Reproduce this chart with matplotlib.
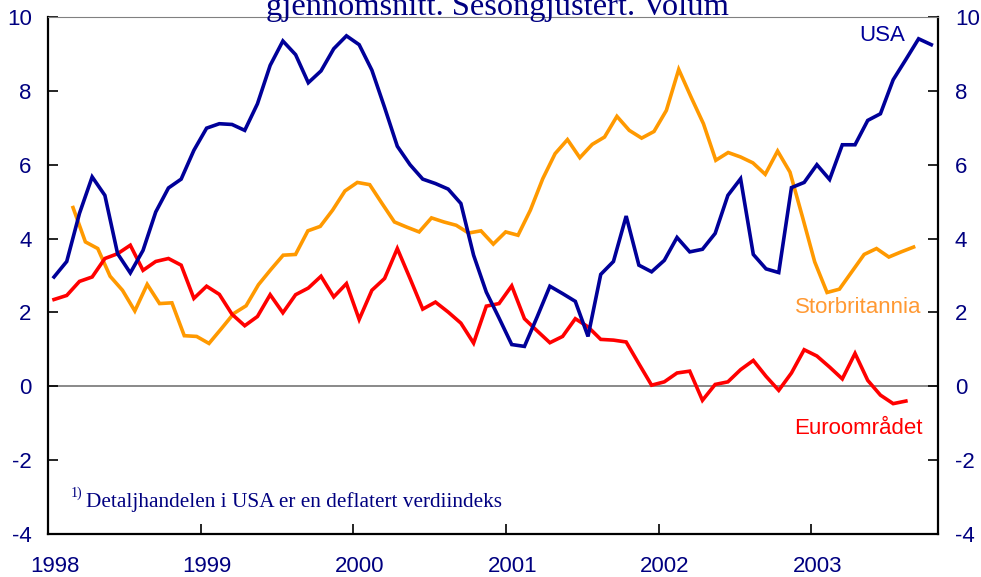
import matplotlib
matplotlib.use("Agg")
import matplotlib.pyplot as plt
import numpy as np

# ---------------- data ----------------
usa = [2.96, 3.38, 4.68, 5.67, 5.17, 3.59, 3.07, 3.68, 4.72, 5.37, 5.61, 6.39,
       6.99, 7.11, 7.09, 6.93, 7.65, 8.69, 9.35, 8.98, 8.22, 8.54, 9.14, 9.49,
       9.25, 8.56, 7.55, 6.50, 6.00, 5.61, 5.49, 5.34, 4.95, 3.55, 2.55, 1.85,
       1.13, 1.08, 1.88, 2.71, 2.51, 2.30, 1.35, 3.03, 3.38, 4.61, 3.28, 3.10,
       3.41, 4.03, 3.64, 3.71, 4.14, 5.17, 5.62, 3.57, 3.18, 3.08, 5.38, 5.52,
       6.00, 5.60, 6.54, 6.54, 7.20, 7.38, 8.30, 8.85, 9.41, 9.25]

euro = [2.35, 2.46, 2.84, 2.96, 3.46, 3.59, 3.82, 3.14, 3.38, 3.46, 3.28, 2.38,
        2.71, 2.49, 1.95, 1.64, 1.89, 2.48, 1.99, 2.48, 2.66, 2.98, 2.42, 2.78,
        1.81, 2.60, 2.92, 3.73, 2.92, 2.09, 2.28, 2.01, 1.71, 1.17, 2.17, 2.24,
        2.72, 1.83, 1.50, 1.18, 1.35, 1.83, 1.61, 1.27, 1.25, 1.20, 0.61, 0.03,
        0.12, 0.36, 0.41, -0.38, 0.05, 0.12, 0.45, 0.70, 0.27, -0.11, 0.36, 0.99,
        0.82, 0.52, 0.20, 0.89, 0.16, -0.24, -0.47, -0.40]

# UK is drawn on its own category axis (72 slots over the same width), from slot 2
uk = [4.84, 3.91, 3.73, 2.98, 2.60, 2.04, 2.76, 2.24, 2.26, 1.37, 1.35, 1.16,
      1.56, 1.97, 2.18, 2.75, 3.16, 3.55, 3.57, 4.21, 4.33, 4.77, 5.29, 5.52,
      5.46, 4.95, 4.45, 4.31, 4.18, 4.56, 4.45, 4.36, 4.15, 4.21, 3.85, 4.18,
      4.09, 4.77, 5.62, 6.30, 6.68, 6.19, 6.55, 6.75, 7.31, 6.93, 6.72, 6.90,
      7.47, 8.58, 7.83, 7.11, 6.12, 6.33, 6.21, 6.05, 5.74, 6.37, 5.80, 4.60,
      3.37, 2.54, 2.63, 3.10, 3.57, 3.73, 3.50, 3.64, 3.77]
uk_first_slot = 2
uk_slots = 72

year_ticks = [1998, 1999, 2000, 2001, 2002, 2003]
y_ticks = [-4, -2, 0, 2, 4, 6, 8, 10]

title_text = "gjennomsnitt. Sesongjustert. Volum"
footnote_text = "Detaljhandelen i USA er en deflatert verdiindeks"
label_usa = "USA"
label_uk = "Storbritannia"
label_euro = "Euroområdet"

# ---------------- styling ----------------
NAVY = "#000080"
C_USA = "#000099"
C_UK = "#FF9900"
C_UK_TXT = "#FF9933"
C_EURO = "#FF0000"
SANS = ["Liberation Sans", "DejaVu Sans"]
SERIF = ["Liberation Serif", "DejaVu Serif"]
FS = 16

x0 = 1998.0
x1 = 1998.0 + 70 / 12.0

t_month = x0 + (np.arange(len(usa)) + 0.45) / 12.0
t_euro = x0 + (np.arange(len(euro)) + 0.45) / 12.0
t_uk = x0 + (np.arange(len(uk)) + uk_first_slot) * (x1 - x0) / uk_slots

fig = plt.figure(figsize=(9.81, 5.77), dpi=100)
ax = fig.add_axes([48.3 / 981, 1 - 534 / 577, (938.3 - 48.3) / 981, (534 - 17) / 577])

lw = 2.6
ax.axhline(0, color="#808080", lw=1.3, zorder=1)
ax.plot(t_month, usa, color=C_USA, lw=lw, zorder=3, solid_joinstyle="miter")
ax.plot(t_uk, uk, color=C_UK, lw=lw, zorder=2, solid_joinstyle="miter")
ax.plot(t_euro, euro, color=C_EURO, lw=lw, zorder=2, solid_joinstyle="miter")

ax.set_xlim(x0, x1)
ax.set_ylim(-4, 10)

# spines
for s in ["left", "bottom", "right"]:
    ax.spines[s].set_color("black")
    ax.spines[s].set_linewidth(1.6)
ax.spines["top"].set_color("#808080")
ax.spines["top"].set_linewidth(0.8)

# x ticks: marks at year starts, labels slightly to the right (mid-January)
ax.set_xticks(year_ticks)
ax.set_xticklabels([])
ax.tick_params(axis="x", which="major", direction="in", length=7, width=1.2, color="black")
ax.set_xticks([y + 0.5 / 12 for y in year_ticks], minor=True)
ax.set_xticklabels([str(y) for y in year_ticks], minor=True)
ax.tick_params(axis="x", which="minor", length=0, pad=16, labelsize=FS,
               labelcolor=NAVY)
for lab in ax.get_xticklabels(minor=True):
    lab.set_fontfamily(SANS)

# y ticks both sides
ax.set_yticks(y_ticks)
ax.set_yticklabels([str(v) for v in y_ticks])
ax.tick_params(axis="y", which="both", direction="in", length=7, width=1.2,
               color="black", left=True, right=True, labelleft=True,
               labelright=True, labelsize=FS, labelcolor=NAVY, pad=12)
for t in ax.yaxis.get_major_ticks():
    t.label1.set_fontfamily(SANS)
    t.label2.set_fontfamily(SANS)

# series labels
ax.text(2003.464, 9.5, label_usa, color=C_USA, fontsize=FS, family=SANS,
        ha="center", va="center")
ax.text(2003.31, 2.12, label_uk, color=C_UK_TXT, fontsize=FS, family=SANS,
        ha="center", va="center")
ax.text(2003.307, -1.14, label_euro, color=C_EURO, fontsize=FS, family=SANS,
        ha="center", va="center")

# footnote
fig.text(70.5 / 981, 1 - 497 / 577, "1)", color=NAVY, fontsize=10, family=SERIF,
         ha="left", va="baseline")
fig.text(86 / 981, 1 - 506.5 / 577, footnote_text, color=NAVY, fontsize=15.3,
         family=SERIF, ha="left", va="baseline")

# clipped title (only lower part visible, as in the reference)
fig.text(497 / 981, 1 - 15 / 577, title_text, color=NAVY, fontsize=23.4,
         family=SERIF, ha="center", va="baseline")

fig.savefig("out.png", dpi=100)
